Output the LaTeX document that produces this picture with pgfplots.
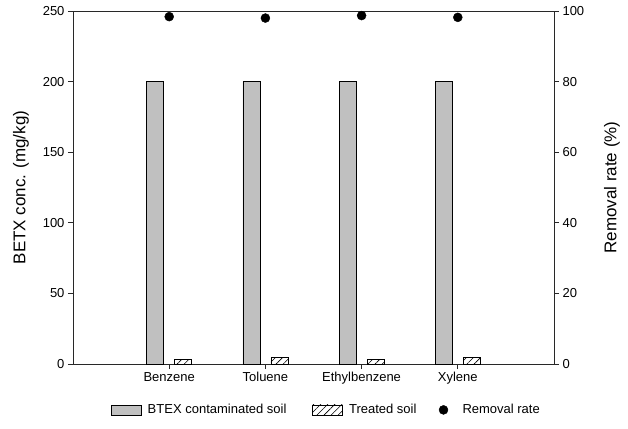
\documentclass[border=0pt]{standalone}
\usepackage{fontspec}
\setmainfont{Liberation Sans}
\usepackage{pgfplots}
\pgfplotsset{compat=1.18}
\usetikzlibrary{patterns.meta}
\definecolor{silver}{RGB}{192,192,192}
\definecolor{axisgray}{RGB}{40,40,40}
\pgfplotsset{
  rectleg/.style={legend image code/.code={\draw[##1] (0pt,-5pt) rectangle (30pt,5pt);}},
  dotleg/.style={legend image code/.code={\path[draw=none,fill=none] (0pt,0pt) -- (22pt,0pt); \draw[##1] plot coordinates {(15pt,0pt)};}},
}
\begin{document}
\begin{tikzpicture}[font=\fontsize{13}{15}\selectfont]
\useasboundingbox (-73pt,-64pt) rectangle (555pt,364pt);
\pgfplotsset{
  every axis/.append style={
    scale only axis, width=481pt, height=353pt,
    xmin=0, xmax=5,
    tick align=outside, major tick length=5pt,
    axis line style={axisgray, line width=0.8pt},
    every tick/.style={axisgray, line width=0.8pt},
    /pgf/number format/assume math mode=true,
    ticklabel style={font=\fontsize{13}{15}\selectfont},
    label style={font=\fontsize{17}{19}\selectfont},
  }
}
\begin{axis}[
  at={(0,0)}, anchor=south west,
  ymin=0, ymax=250,
  xtick={1,2,3,4}, xticklabels={Benzene,Toluene,Ethylbenzene,Xylene},
  ytick={0,50,100,150,200,250},
  xtick pos=bottom, ytick pos=left,
  ybar=11pt, bar width=17pt,
  ylabel={BETX conc. (mg/kg)},
  ylabel style={at={(axis description cs:-0.108,0.5)}, anchor=center},
  legend style={at={(axis description cs:0.527,-0.130)}, anchor=center, draw=none,
    fill=none, legend columns=3, font=\fontsize{13}{15}\selectfont,
    /tikz/column 1/.style={column sep=4pt},
    /tikz/column 2/.style={column sep=24pt},
    /tikz/column 3/.style={column sep=4pt},
    /tikz/column 4/.style={column sep=10pt},
    /tikz/column 5/.style={column sep=10pt}},
]
\addplot[fill=silver, draw=black, line width=0.6pt, rectleg]
  coordinates {(1,200) (2,200) (3,200) (4,200)};
\addplot[draw=black, line width=0.6pt, pattern={Lines[angle=45,distance=5pt,line width=0.6pt]}, rectleg]
  coordinates {(1,3.5) (2,4.5) (3,3) (4,4.5)};
\addlegendimage{only marks, mark=*, mark size=4.5pt, black, dotleg}
\legend{BTEX contaminated soil, Treated soil, Removal rate}
\end{axis}
\begin{axis}[
  at={(0,0)}, anchor=south west,
  ymin=0, ymax=100,
  axis x line=none, axis y line*=right, ytick pos=right,
  ytick={0,20,40,60,80,100},
  ylabel={Removal rate (\%)},
  ylabel style={at={(axis description cs:1.1206,0.5)}, anchor=center},
]
\addplot[only marks, mark=*, mark size=4.5pt, black]
  coordinates {(1,98.4) (2,98.0) (3,98.7) (4,98.2)};
\end{axis}
\end{tikzpicture}
\end{document}
